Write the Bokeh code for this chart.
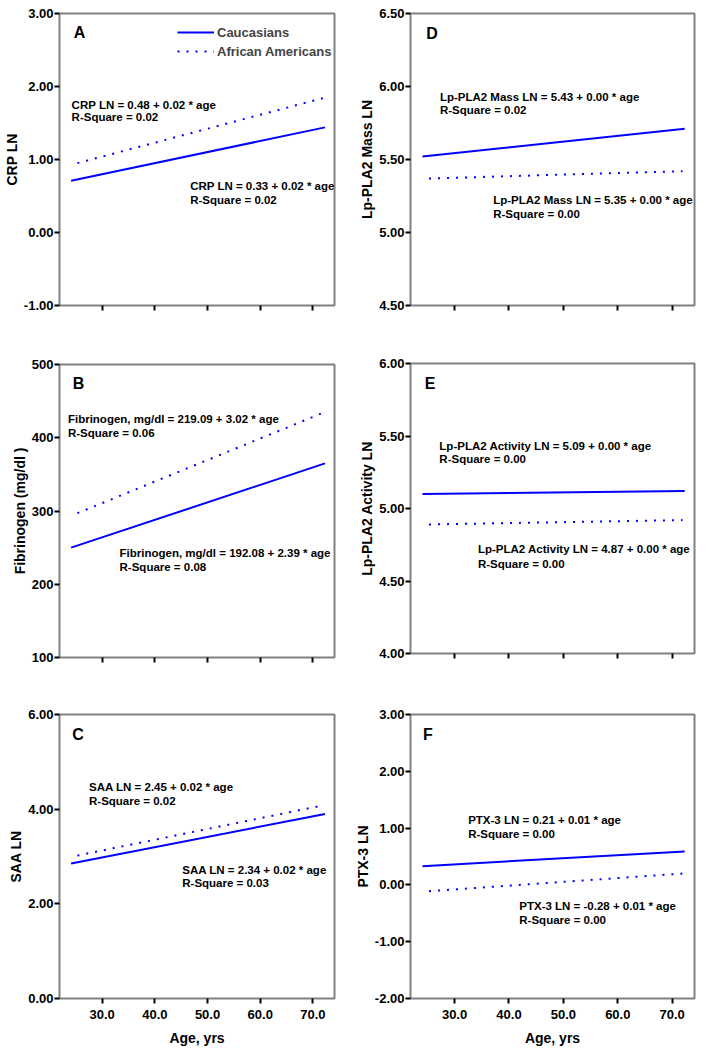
from bokeh.plotting import figure
from bokeh.layouts import row, column
from bokeh.models import (FixedTicker, NumeralTickFormatter, Label, Legend,
                          LegendItem, Range1d)
from bokeh.embed import file_html
from bokeh.resources import INLINE

FONT = "Liberation Sans"
BLUE = "#0000ff"

# ---------------- data ----------------
cauc_age = [24.1, 72.3]
aa_age = [25.3, 71.9]

crp_cauc = [0.71, 1.44]
crp_aa = [0.95, 1.84]
fib_cauc = [250, 365]
fib_aa = [297, 434]
saa_cauc = [2.85, 3.90]
saa_aa = [3.02, 4.08]
mass_cauc = [5.52, 5.71]
mass_aa = [5.37, 5.42]
act_cauc = [5.10, 5.12]
act_aa = [4.89, 4.92]
ptx_cauc = [0.33, 0.59]
ptx_aa = [-0.11, 0.20]

x_ticks = [30, 40, 50, 60, 70]
crp_ticks = [-1, 0, 1, 2, 3]
fib_ticks = [100, 200, 300, 400, 500]
saa_ticks = [0, 2, 4, 6]
mass_ticks = [4.5, 5.0, 5.5, 6.0, 6.5]
act_ticks = [4.0, 4.5, 5.0, 5.5, 6.0]
ptx_ticks = [-2, -1, 0, 1, 2, 3]

series_names = ["Caucasians", "African Americans"]

crp_eq = ["CRP LN = 0.33 + 0.02 * age", "R-Square = 0.02",
          "CRP LN = 0.48 + 0.02 * age", "R-Square = 0.02"]
fib_eq = ["Fibrinogen, mg/dl = 192.08 + 2.39 * age", "R-Square = 0.08",
          "Fibrinogen, mg/dl = 219.09 + 3.02 * age", "R-Square = 0.06"]
saa_eq = ["SAA LN = 2.34 + 0.02 * age", "R-Square = 0.03",
          "SAA LN = 2.45 + 0.02 * age", "R-Square = 0.02"]
mass_eq = ["Lp-PLA2 Mass LN = 5.43 + 0.00 * age", "R-Square = 0.02",
           "Lp-PLA2 Mass LN = 5.35 + 0.00 * age", "R-Square = 0.00"]
act_eq = ["Lp-PLA2 Activity LN = 5.09 + 0.00 * age", "R-Square = 0.00",
          "Lp-PLA2 Activity LN = 4.87 + 0.00 * age", "R-Square = 0.00"]
ptx_eq = ["PTX-3 LN = 0.21 + 0.01 * age", "R-Square = 0.00",
          "PTX-3 LN = -0.28 + 0.01 * age", "R-Square = 0.00"]


def make_panel(letter, ylabel, yr, yticks, yfmt, cauc, aa, eq, eq_pos,
               letter_pos, width, height, top, bottom, left, right,
               show_x=False, legend=False):
    p = figure(width=width, height=height,
               x_range=Range1d(21.9, 74.1), y_range=Range1d(*yr),
               output_backend="svg", toolbar_location=None,
               min_border_top=top, min_border_bottom=bottom,
               min_border_left=left, min_border_right=right)
    p.grid.visible = False
    p.outline_line_color = "#808080"
    p.outline_line_width = 2
    p.background_fill_color = "white"
    p.border_fill_color = "white"

    for ax in (p.xaxis[0], p.yaxis[0]):
        ax.axis_line_color = None
        ax.major_tick_line_color = "black"
        ax.major_tick_line_width = 2
        ax.major_tick_out = 5
        ax.major_tick_in = 0
        ax.minor_tick_line_color = None
        ax.major_label_text_font = FONT
        ax.major_label_text_font_style = "bold"
        ax.major_label_text_font_size = "13px"
        ax.major_label_text_color = "black"
        ax.major_label_standoff = 1
        ax.axis_label_text_font = FONT
        ax.axis_label_text_font_style = "bold"
        ax.axis_label_text_font_size = "14px"
        ax.axis_label_text_color = "black"
        ax.axis_label_standoff = 1

    p.xaxis.ticker = FixedTicker(ticks=x_ticks)
    p.xaxis.formatter = NumeralTickFormatter(format="0.0")
    if show_x:
        p.xaxis.axis_label = "Age, yrs"
        p.xaxis.major_label_standoff = 6
        p.xaxis.axis_label_standoff = 8
    else:
        p.xaxis.major_label_overrides = {t: "" for t in x_ticks}
        p.xaxis.major_label_standoff = 0

    p.yaxis.ticker = FixedTicker(ticks=yticks)
    p.yaxis.formatter = NumeralTickFormatter(format=yfmt)
    p.yaxis.axis_label = ylabel

    r1 = p.line(cauc_age, cauc, line_color=BLUE, line_width=2)
    r2 = p.line(aa_age, aa, line_color=BLUE, line_width=2, line_dash="2 7")

    for txt, (x, y) in zip(eq, eq_pos):
        p.add_layout(Label(x=x, y=y, text=txt, text_font=FONT,
                           text_font_style="bold", text_font_size="11.5px",
                           text_color="black", text_align="left",
                           text_baseline="middle"))
    p.add_layout(Label(x=letter_pos[0], y=letter_pos[1], text=letter,
                       text_font=FONT, text_font_style="bold",
                       text_font_size="16px", text_color="black",
                       text_align="left", text_baseline="middle"))

    if legend:
        lg = Legend(items=[LegendItem(label=series_names[0], renderers=[r1]),
                           LegendItem(label=series_names[1], renderers=[r2])],
                    location=(118, 245))
        lg.border_line_alpha = 0
        lg.background_fill_alpha = 0
        lg.label_text_font = FONT
        lg.label_text_font_style = "bold"
        lg.label_text_font_size = "13px"
        lg.glyph_width = 37
        lg.glyph_height = 18
        lg.label_height = 18
        lg.spacing = 1
        lg.padding = 0
        lg.margin = 0
        lg.label_standoff = 3
        p.add_layout(lg)
    return p


LW, RW = 346, 350

pA = make_panel("A", "CRP LN", (-1, 3), crp_ticks, "0.00", crp_cauc, crp_aa,
                crp_eq, [(46.7, 0.64), (46.7, 0.45), (24.2, 1.75), (24.2, 1.58)],
                (24.6, 2.74), LW, 338, 13, 33, 48, 12, legend=True)
pB = make_panel("B", "Fibrinogen (mg/dl )", (100, 500), fib_ticks, "0",
                fib_cauc, fib_aa, fib_eq,
                [(33.3, 243), (33.3, 224), (23.5, 425), (23.5, 407)],
                (24.4, 474), LW, 348, 26, 29, 48, 12)
pC = make_panel("C", "SAA LN", (0, 6), saa_ticks, "0.00", saa_cauc, saa_aa,
                saa_eq, [(45.2, 2.71), (45.2, 2.44), (27.5, 4.46), (27.5, 4.17)],
                (24.3, 5.58), LW, 362, 28, 50, 48, 12, show_x=True)

pD = make_panel("D", "Lp-PLA2 Mass LN", (4.5, 6.5), mass_ticks, "0.00",
                mass_cauc, mass_aa, mass_eq,
                [(27.3, 5.925), (27.3, 5.836), (37.1, 5.22), (37.1, 5.13)],
                (24.8, 6.36), RW, 338, 13, 33, 64, 2)
pE = make_panel("E", "Lp-PLA2 Activity LN", (4.0, 6.0), act_ticks, "0.00",
                act_cauc, act_aa, act_eq,
                [(27.2, 5.43), (27.2, 5.34), (34.3, 4.72), (34.3, 4.62)],
                (24.5, 5.86), RW, 348, 25, 33, 64, 2)
pF = make_panel("F", "PTX-3 LN", (-2, 3), ptx_ticks, "0.00", ptx_cauc, ptx_aa,
                ptx_eq, [(32.5, 1.14), (32.5, 0.90), (41.9, -0.37), (41.9, -0.61)],
                (24.2, 2.65), RW, 362, 28, 50, 64, 2, show_x=True)

layout = row(column(pA, pB, pC), column(pD, pE, pF))

open("out.html", "w").write(file_html(layout, INLINE))
